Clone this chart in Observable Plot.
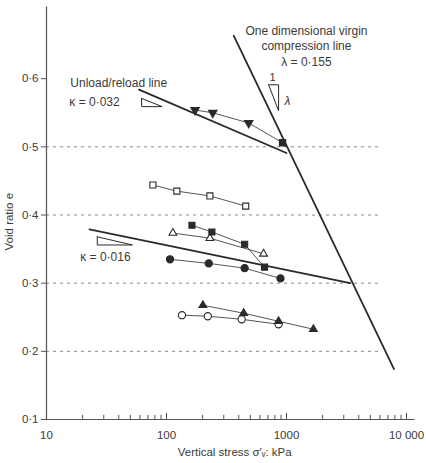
<!DOCTYPE html>
<html>
<head>
<meta charset="utf-8">
<script src="https://cdn.jsdelivr.net/npm/d3@7"></script>
<script src="https://cdn.jsdelivr.net/npm/@observablehq/plot@0.6"></script>
<style>
  html, body { margin: 0; padding: 0; background: #fff; }
  #chart svg { display: block; }
</style>
</head>
<body>
<div id="chart"></div>
<script>
// ---- tick labels / axes ----
const xMajorTicks = [10, 100, 1000, 10000];
const xTickLabels = ["10", "100", "1000", "10 000"];
const xMinorTicks = [20,30,40,50,60,70,80,90,200,300,400,500,600,700,800,900,2000,3000,4000,5000,6000,7000,8000,9000];
const yTicks = [0.1, 0.2, 0.3, 0.4, 0.5, 0.6];
const yTickLabels = ["0·1", "0·2", "0·3", "0·4", "0·5", "0·6"];
const gridLevels = [0.2, 0.3, 0.4, 0.5];

// ---- reference lines ----
const virginX = [363, 7870];
const virginE = [0.663, 0.174];
const unloadUpperX = [59, 1000];
const unloadUpperE = [0.584, 0.491];
const unloadLowerX = [22.8, 3400];
const unloadLowerE = [0.379, 0.300];

// ---- slope triangles ----
const triUpperX = [62, 62, 92, 62];
const triUpperE = [0.571, 0.559, 0.559, 0.571];
const triLowerX = [26.5, 26.5, 52, 26.5];
const triLowerE = [0.368, 0.356, 0.356, 0.368];
const triLambdaX = [710, 859, 859, 710];
const triLambdaE = [0.591, 0.591, 0.553, 0.591];

// ---- test series ----
const invTriX = [173, 243, 484];
const invTriE = [0.554, 0.550, 0.535];
const invTriEndX = [927];
const invTriEndE = [0.506];

const openSqX = [77, 122, 230, 457];
const openSqE = [0.444, 0.435, 0.428, 0.413];

const fillSqX = [163, 239, 448, 656];
const fillSqE = [0.385, 0.375, 0.357, 0.3235];

const openTriX = [113, 230, 644];
const openTriE = [0.3735, 0.366, 0.343];

const fillCircX = [107, 225, 448, 891];
const fillCircE = [0.335, 0.329, 0.322, 0.307];

const openCircX = [134.6, 221, 423, 859];
const openCircE = [0.253, 0.2515, 0.247, 0.2397];

const fillTriX = [201, 440, 859, 1675];
const fillTriE = [0.2676, 0.2559, 0.2441, 0.2324];

const zip = (xs, ys) => xs.map((x, i) => ({x, y: ys[i]}));
const ink = "#2a2a2a";
const txt = "#3a3a3a";

const seriesMarks = (xs, ys, symbol, filled, r) => [
  Plot.line(zip(xs, ys), {x: "x", y: "y", stroke: ink, strokeWidth: 0.8}),
  Plot.dot(zip(xs, ys), {x: "x", y: "y", symbol, r,
    fill: filled ? ink : "white", stroke: ink, strokeWidth: 1.1})
];

const chart = Plot.plot({
  width: 426,
  height: 463,
  marginLeft: 46,
  marginRight: 20,
  marginTop: 10,
  marginBottom: 44,
  style: {fontFamily: "'Liberation Sans', Arial, sans-serif", fontSize: "11.5px", color: txt, background: "#fff"},
  x: {type: "log", domain: [10, 10000]},
  y: {domain: [0.1, 0.7]},
  marks: [
    // dashed grid
    Plot.ruleY(gridLevels, {y: d => d, x1: 10, x2: 6100, stroke: "#888", strokeWidth: 1, strokeDasharray: "3,4"}),
    // axis lines
    Plot.ruleX([10], {y1: 0.1, y2: 0.705, stroke: "#555", strokeWidth: 1.2}),
    Plot.ruleY([0.1], {x1: 10, x2: 11800, stroke: "#555", strokeWidth: 1.2}),
    // y axis ticks
    Plot.axisY({ticks: yTicks, tickSize: 5, tickPadding: 3, tickFormat: d => yTickLabels[yTicks.indexOf(d)], label: null, stroke: "#555", fill: txt}),
    // x axis ticks (inward)
    Plot.ruleX(xMajorTicks, {x: d => d, y1: 0.1, y2: 0.109, stroke: "#555"}),
    Plot.ruleX(xMinorTicks, {x: d => d, y1: 0.1, y2: 0.106, stroke: "#555"}),
    Plot.axisX({ticks: xMajorTicks, tickSize: 0, tickPadding: 11, tickFormat: d => xTickLabels[xMajorTicks.indexOf(d)], label: null, fill: txt}),
    // axis titles
    Plot.text(["Void ratio e"], {frameAnchor: "left", y: 0.348, dx: -37, rotate: -90, fill: txt, fontSize: 11.5}),
    Plot.text(["Vertical stress σ′ᵥ: kPa"], {frameAnchor: "bottom", x: 370, dy: 36, fill: txt, fontSize: 11.5}),

    // main lines
    Plot.line(zip(virginX, virginE), {x: "x", y: "y", stroke: ink, strokeWidth: 1.8}),
    Plot.line(zip(unloadUpperX, unloadUpperE), {x: "x", y: "y", stroke: ink, strokeWidth: 1.8}),
    Plot.line(zip(unloadLowerX, unloadLowerE), {x: "x", y: "y", stroke: ink, strokeWidth: 1.8}),

    // slope triangles
    Plot.line(zip(triUpperX, triUpperE), {x: "x", y: "y", stroke: ink, strokeWidth: 1}),
    Plot.line(zip(triLowerX, triLowerE), {x: "x", y: "y", stroke: ink, strokeWidth: 1}),
    Plot.line(zip(triLambdaX, triLambdaE), {x: "x", y: "y", stroke: ink, strokeWidth: 1}),

    // annotations
    Plot.text(["One dimensional virgin"], {x: 1466, y: 0.670, fill: txt, fontSize: 12}),
    Plot.text(["compression line"], {x: 1466, y: 0.647, fill: txt, fontSize: 12}),
    Plot.text(["λ = 0·155"], {x: 1466, y: 0.6235, fill: txt, fontSize: 12}),
    Plot.text(["1"], {x: 765, y: 0.6015, fill: txt, fontSize: 11}),
    Plot.text(["λ"], {x: 961, y: 0.5677, textAnchor: "start", fill: txt, fontSize: 12, fontStyle: "italic"}),
    Plot.text(["Unload/reload line"], {x: 15.8, y: 0.5927, textAnchor: "start", fill: txt, fontSize: 12}),
    Plot.text(["κ = 0·032"], {x: 15.5, y: 0.566, textAnchor: "start", fill: txt, fontSize: 12}),
    Plot.text(["κ = 0·016"], {x: 19.1, y: 0.3375, textAnchor: "start", fill: txt, fontSize: 12}),

    // data series
    Plot.line(zip(invTriX.concat(invTriEndX), invTriE.concat(invTriEndE)), {x: "x", y: "y", stroke: ink, strokeWidth: 0.8}),
    Plot.dot(zip(invTriX, invTriE), {x: "x", y: "y", symbol: "triangle", rotate: 180, r: 2.9, fill: ink, stroke: ink}),
    Plot.dot(zip(invTriEndX, invTriEndE), {x: "x", y: "y", symbol: "square", r: 3.3, fill: ink, stroke: ink}),
    ...seriesMarks(openSqX, openSqE, "square", false, 3.4),
    ...seriesMarks(openTriX, openTriE, "triangle", false, 2.9),
    ...seriesMarks(fillSqX, fillSqE, "square", true, 3.4),
    ...seriesMarks(fillCircX, fillCircE, "circle", true, 3.6),
    ...seriesMarks(openCircX, openCircE, "circle", false, 3.6),
    ...seriesMarks(fillTriX, fillTriE, "triangle", true, 2.9)
  ]
});
document.getElementById("chart").appendChild(chart);
</script>
</body>
</html>
